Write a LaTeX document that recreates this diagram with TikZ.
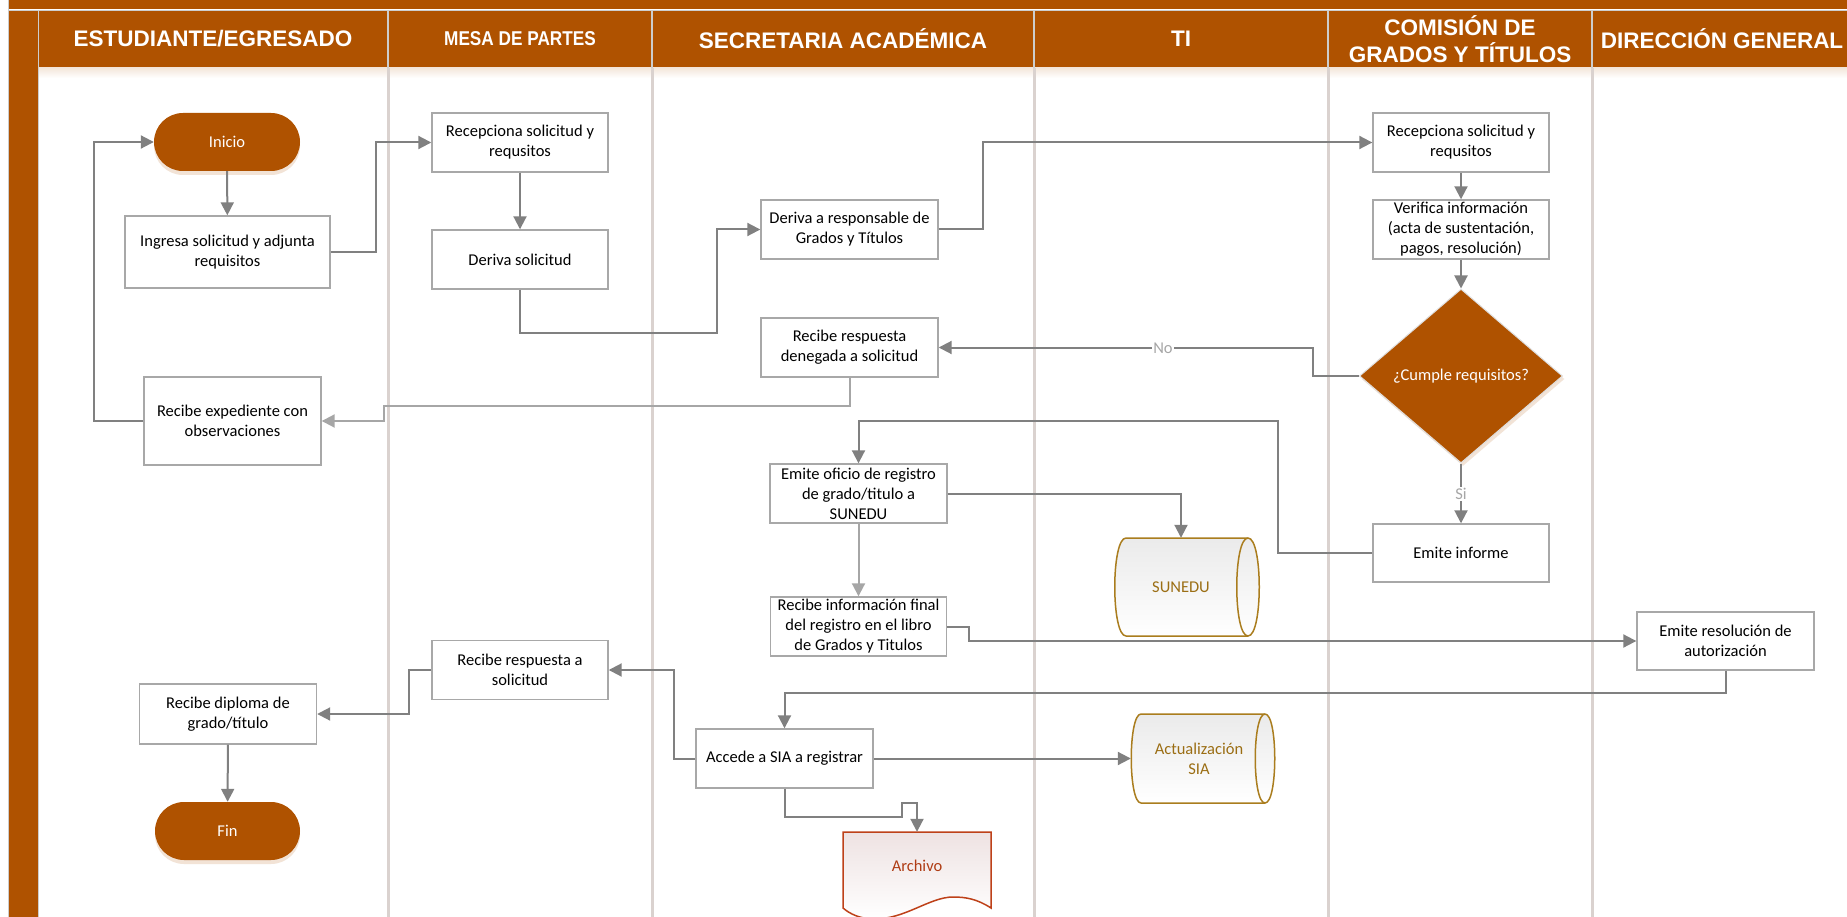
\documentclass[tikz,border=0pt]{standalone}
\usepackage{fontspec}
\usepackage{graphicx}
\setmainfont{Carlito}
\newfontfamily\hdrfont{Liberation Sans}
\usetikzlibrary{arrows.meta,shapes.geometric,shadows}
\definecolor{org}{RGB}{175,82,0}
\definecolor{cline}{RGB}{128,128,128}
\definecolor{lline}{RGB}{166,166,166}
\definecolor{bbord}{RGB}{168,168,168}
\definecolor{gold}{RGB}{170,125,30}
\definecolor{goldtext}{RGB}{155,110,20}
\definecolor{rust}{RGB}{190,65,25}
\definecolor{rusttext}{RGB}{175,60,20}
\definecolor{lanesep}{RGB}{218,210,207}
\definecolor{hdrsep}{RGB}{205,205,205}
\begin{document}
\begin{tikzpicture}[x=1pt,y=-1pt,
 txt/.style={font=\fontsize{16.5}{20}\selectfont},
 proc/.style={txt, draw=bbord, line width=1.4pt, fill=white, align=center, inner sep=0pt, minimum width=176pt, minimum height=59pt},
 term/.style={txt, fill=org, text=white, rounded corners=29pt, minimum width=146pt, minimum height=58pt, drop shadow={shadow xshift=0pt, shadow yshift=-4pt, fill=org!40, opacity=0.4}},
 decis/.style={txt, diamond, fill=org, draw=white!75!gray, line width=1pt, text=white, inner sep=0pt, minimum width=203pt, minimum height=174pt, drop shadow={shadow xshift=2pt, shadow yshift=-3pt, fill=org!40, opacity=0.4}},
 conn/.style={draw=cline, line width=2pt, -{Triangle[length=13pt,width=13pt]}},
 lconn/.style={conn, draw=lline},
 lbl/.style={txt, fill=white, text=lline, inner sep=1.5pt},
 hdr/.style={text=white, align=center, font=\hdrfont\bfseries\fontsize{22.5}{27}\selectfont},
 store/.style={txt, inner sep=0pt, align=center, text=goldtext},
]
\useasboundingbox (0,0) rectangle (1847,917);
\fill[white] (0,0) rectangle (1847,917);
% ---------- pool frame ----------
\fill[org] (9,0) rectangle (1847,9.5);
\draw[hdrsep, line width=1.5pt] (9,10.3) -- (1847,10.3);
\draw[black!20, line width=1pt] (8.5,0) -- (8.5,917);
\fill[org] (9,11) rectangle (37.5,917);
\fill[org] (39,11) rectangle (1847,68);
\shade[top color=org!14, bottom color=white] (39,68) rectangle (1847,78);
\draw[hdrsep, line width=1.5pt] (38.3,11) -- (38.3,917);
\foreach \lx in {388,652,1034,1328,1592}{
  \draw[hdrsep, line width=2pt] (\lx,11) -- (\lx,68);
  \draw[lanesep, line width=3pt] (\lx,68) -- (\lx,917);
}
% ---------- headers ----------
\node[hdr] (h1) at (213,39) {ESTUDIANTE/EGRESADO};
\node[hdr, font=\hdrfont\bfseries\fontsize{20}{24}\selectfont] (h2) at (520,39) {\scalebox{0.86}[1]{MESA DE PARTES}};
\node[hdr] (h3) at (843,39) {SECRETARIA ACADÉMICA};
\node[hdr] (h4) at (1181,39) {TI};
\node[hdr] (h5) at (1460,39) {COMISIÓN DE\\GRADOS Y TÍTULOS};
\node[hdr] (h6) at (1722,39) {DIRECCIÓN GENERAL};
% ---------- data shapes ----------
\path[draw=gold, line width=1.5pt, top color=black!8, bottom color=white]
  (1126,538) -- (1248,538) .. controls (1263,538) and (1263,636) .. (1248,636)
  -- (1126,636) .. controls (1111,636) and (1111,538) .. (1126,538) -- cycle;
\draw[gold, line width=1.5pt] (1248,538) .. controls (1233,538) and (1233,636) .. (1248,636);
\path[draw=gold, line width=1.5pt, top color=black!8, bottom color=white]
  (1141,714) -- (1265,714) .. controls (1278,714) and (1278,803) .. (1265,803)
  -- (1141,803) .. controls (1128,803) and (1128,714) .. (1141,714) -- cycle;
\draw[gold, line width=1.5pt] (1265,714) .. controls (1252,714) and (1252,803) .. (1265,803);
\path[draw=rust, line width=1.5pt, top color={rgb,255:red,238;green,226;blue,226}, bottom color=white]
  (843,832) -- (991,832) -- (991,908) .. controls (977,899) and (966,897) .. (953,897)
  .. controls (930,897) and (905,919) .. (875,919) .. controls (860,919) and (850,914) .. (843,908) -- cycle;
% ---------- nodes ----------
\node[term] (inicio) at (227,142) {Inicio};
\node[proc, minimum width=205pt, minimum height=72pt] (ingresa) at (227.5,252) {Ingresa solicitud y adjunta\\requisitos};
\node[proc] (recep1) at (520,142.5) {Recepciona solicitud y\\requsitos};
\node[proc] (deriva1) at (520,259.5) {Deriva solicitud};
\node[proc, minimum width=177pt] (deriva2) at (849.5,229.5) {Deriva a responsable de\\Grados y Títulos};
\node[proc] (recep2) at (1461,142.5) {Recepciona solicitud y\\requsitos};
\node[proc] (verif) at (1461,229.5) {Verifica información\\(acta de sustentación,\\pagos, resolución)};
\node[decis] (cumple) at (1461,376) {¿Cumple requisitos?};
\node[proc, minimum width=177pt] (deneg) at (849.5,347.5) {Recibe respuesta\\denegada a solicitud};
\node[proc, minimum width=177pt, minimum height=88pt] (exped) at (232.5,421) {Recibe expediente con\\observaciones};
\node[proc, minimum width=177pt] (oficio) at (858.5,493.5) {Emite oficio de registro\\de grado/titulo a\\SUNEDU};
\node[proc, minimum height=58pt] (informe) at (1461,553) {Emite informe};
\node[proc] (recinfo) at (858.5,626.5) {Recibe información final\\del registro en el libro\\de Grados y Titulos};
\node[proc, minimum width=177pt, minimum height=58pt] (resol) at (1725.5,641) {Emite resolución de\\autorización};
\node[proc] (recresp) at (520,670) {Recibe respuesta a\\solicitud};
\node[proc, minimum width=177pt, minimum height=60pt] (diploma) at (228,714) {Recibe diploma de\\grado/título};
\node[proc, minimum width=177pt] (accede) at (784.5,758.5) {Accede a SIA a registrar};
\node[term, minimum width=145pt] (fin) at (227.5,831) {Fin};
\node[store, minimum height=98pt] (sunedu) at (1181,587) {SUNEDU};
\node[store, minimum width=136pt, minimum height=89pt] (sia) at (1199,758.5) {Actualización\\SIA};
\node[store, text=rusttext, minimum height=68pt] (archivo) at (917,866) {Archivo};
% ---------- connectors ----------
\draw[conn] (inicio) -- (ingresa);
\draw[conn] (ingresa.east) -- ++(45,0) |- (recep1.west);
\draw[conn] (recep1) -- (deriva1);
\draw[conn] (deriva1.south) |- (717,333) |- (deriva2.west);
\draw[conn] (deriva2.east) -- ++(44,0) |- (recep2.west);
\draw[conn] (recep2) -- (verif);
\draw[conn] (verif.south) -- (cumple.north);
\draw[conn] (cumple.west) -- ++(-46,0) |- (deneg.east);
\node[lbl] (nolbl) at (1163,348) {No};
\draw[conn] (cumple.south) -- (informe.north);
\node[lbl] (silbl) at (1461,494) {Si};
\draw[lconn] (deneg.south) |- (384,406) |- (exped.east);
\draw[conn] (exped.west) -- ++(-49,0) |- (inicio.west);
\draw[conn] (informe.west) -| (1278,421) -| (oficio.north);
\draw[conn] (oficio.east) -| (sunedu.north);
\draw[lconn] (oficio) -- (recinfo);
\draw[conn] (recinfo.east) -- ++(22,0) |- (resol.west);
\draw[conn] (resol.south) -- ++(0,22) -| (accede.north);
\draw[conn] (accede.west) -- ++(-21.5,0) |- (recresp.east);
\draw[conn] (recresp.west) -- ++(-22,0) |- (diploma.east);
\draw[conn] (diploma) -- (fin);
\draw[conn] (accede.east) -- (sia.west);
\draw[conn] (accede.south) |- (902,817) |- (917,803) -- (archivo.north);
\end{tikzpicture}
\end{document}
